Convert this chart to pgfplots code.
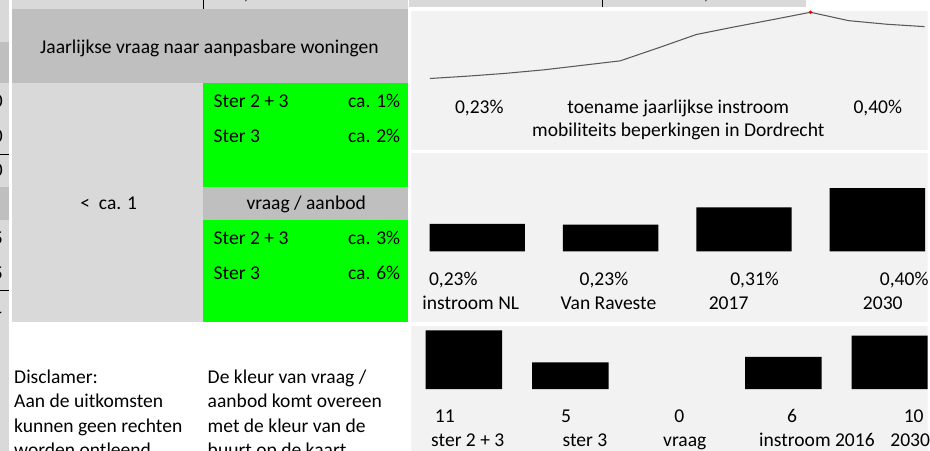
\documentclass[border=0pt]{standalone}
\usepackage{fontspec}
\setmainfont{Carlito}
\usepackage{pgfplots}
\pgfplotsset{compat=1.18}
\definecolor{lg}{HTML}{D9D9D9}
\definecolor{dg}{HTML}{BFBFBF}
\definecolor{gr}{HTML}{00FF00}
\definecolor{pn}{HTML}{F2F2F2}
\definecolor{ln}{HTML}{595959}
\begin{document}
\begin{tikzpicture}[font=\fontsize{14.7}{17.6}\selectfont, inner sep=0pt]
\begin{scope}[x=0.75pt,y=-0.75pt]
\useasboundingbox (0,0) rectangle (930,452);
\begin{scope}
\clip (0,0) rectangle (930,452);
\fill[white] (0,0) rectangle (930,452);
% left strip (cut-off neighbouring table)
\fill[lg] (0,0) rectangle (9,452);
\fill[dg] (0,42) rectangle (9,83);
\fill[dg] (0,187) rectangle (9,221);
\draw[black,line width=0.75pt] (0,154.5) -- (9,154.5);
\draw[black,line width=0.75pt] (0,291) -- (9,291);
\node[anchor=base east] at (3,107.5) {0};
\node[anchor=base east] at (3,142.5) {0};
\node[anchor=base east] at (3,176.5) {0};
\node[anchor=base east] at (3,245.5) {5};
\node[anchor=base east] at (3,280.5) {5};
\node[anchor=base east] at (2.5,319.5) {-};
\fill[white] (9,0) rectangle (12,452);
% main table
\fill[lg] (12,0) rectangle (409,9);
\draw[black,line width=0.75pt] (204,0) -- (204,9);
\node[anchor=base] at (247,0) {,};
\fill[dg] (12,9) rectangle (409,83);
\fill[lg] (12,83) rectangle (204,323);
\fill[gr] (204,83) rectangle (409,187);
\fill[dg] (204,187) rectangle (409,221);
\fill[gr] (204,221) rectangle (409,323);
\node[anchor=base] at (210,53.5) {Jaarlijkse vraag naar aanpasbare woningen};
\node[anchor=base west] at (214,107.5) {Ster 2 + 3};
\node[anchor=base east] at (401.5,107.5) {ca. 1\%};
\node[anchor=base west] at (214,142.5) {Ster 3};
\node[anchor=base east] at (401.5,142.5) {ca. 2\%};
\node[anchor=base] at (109,210.5) {<\ \ ca. 1};
\node[anchor=base] at (307,210.5) {vraag / aanbod};
\node[anchor=base west] at (214,245.5) {Ster 2 + 3};
\node[anchor=base east] at (401.5,245.5) {ca. 3\%};
\node[anchor=base west] at (214,280.5) {Ster 3};
\node[anchor=base east] at (401.5,280.5) {ca. 6\%};
% disclaimer
\node[anchor=base west] at (14,384.5) {Disclamer:};
\node[anchor=base west] at (14,409) {Aan de uitkomsten};
\node[anchor=base west] at (14,433.5) {kunnen geen rechten};
\node[anchor=base west] at (14,458) {worden ontleend.};
\node[anchor=base west] at (208,384.5) {De kleur van vraag /};
\node[anchor=base west] at (208,409) {aanbod komt overeen};
\node[anchor=base west] at (208,433.5) {met de kleur van de};
\node[anchor=base west] at (208,458) {buurt op de kaart.};
% right side
\fill[lg] (410,0) rectangle (808,7.5);
\draw[black,line width=0.75pt] (604.3,0) -- (604.3,7.5);
\node[anchor=base] at (708,0) {,};
\fill[pn] (412,11) rectangle (930,150.7);
\fill[pn] (412,153.3) rectangle (930,323);
\fill[pn] (412,326.7) rectangle (930,452);
\node[anchor=base] at (480.5,113.5) {0,23\%};
\node[anchor=base] at (680,113.5) {toename jaarlijkse instroom};
\node[anchor=base] at (680,136.5) {mobiliteits beperkingen in Dordrecht};
\node[anchor=base] at (880,113.5) {0,40\%};
\end{scope}
\end{scope}
% line chart
\begin{axis}[at={(323.25pt,-59.025pt)}, anchor=south west, scale only axis,
  width=372pt, height=49.8pt, xmin=0, xmax=13, ymin=0.23, ymax=0.40,
  hide axis, clip=false]
\addplot[ln, line width=0.8pt, mark=none] coordinates {
(0,0.2300) (1,0.2361) (2,0.2433) (3,0.2523) (4,0.2638) (5,0.2753) (6,0.3086)
(7,0.3429) (8,0.3624) (9,0.3810) (10,0.4000) (11,0.3785) (12,0.3693) (13,0.3631)};
\addplot[red, only marks, mark=*, mark size=1.1pt] coordinates {(10,0.4000)};
\end{axis}
% bar chart 1
\begin{axis}[at={(309pt,-189pt)}, anchor=south west, scale only axis,
  width=388.5pt, height=47.475pt, xmin=-0.497, xmax=3.377, ymin=0.1, ymax=0.4,
  axis line style={draw=none}, tick style={draw=none}, ytick=\empty,
  major tick length=0pt,
  ybar, bar width=71.7pt,
  xtick={-0.0486,0.9835,1.8848,3.0404},
  xticklabels={instroom NL, Van Raveste, 2017, 2030},
  xticklabel style={anchor=base, yshift=-43.7pt, inner sep=0pt},
  extra x ticks={-0.1795,0.9499,2.0793,3.2012},
  extra x tick labels={{0,23\%},{0,23\%},{0,31\%},{0,40\%}},
  extra x tick style={xticklabel style={yshift=18pt}}]
\addplot[fill=black, draw=none] coordinates {(0,0.231) (1,0.2265) (2,0.3085) (3,0.40)};
\end{axis}
% bar chart 2
\begin{axis}[at={(309pt,-292.5pt)}, anchor=south west, scale only axis,
  width=388.5pt, height=44.14pt, xmin=-0.496, xmax=4.354, ymin=0, ymax=11,
  axis line style={draw=none}, tick style={draw=none}, ytick=\empty,
  major tick length=0pt,
  ybar, bar width=57.45pt,
  xtick={0.0375,1.1376,2.074,3.3146,4.19},
  xticklabels={ster 2 + 3, ster 3, vraag, instroom 2016, 2030},
  xticklabel style={anchor=base, yshift=-43.5pt, inner sep=0pt},
  extra x ticks={-0.178,0.9597,2.0225,3.0805,4.2228},
  extra x tick labels={11,5,0,6,10},
  extra x tick style={xticklabel style={yshift=18.3pt}},
  unbounded coords=discard, y filter/.expression={y==0 ? nan : y}]
\addplot[fill=black, draw=none] coordinates {(0,11) (1,5) (2,0) (3,6) (4,10)};
\end{axis}
\end{tikzpicture}
\end{document}
